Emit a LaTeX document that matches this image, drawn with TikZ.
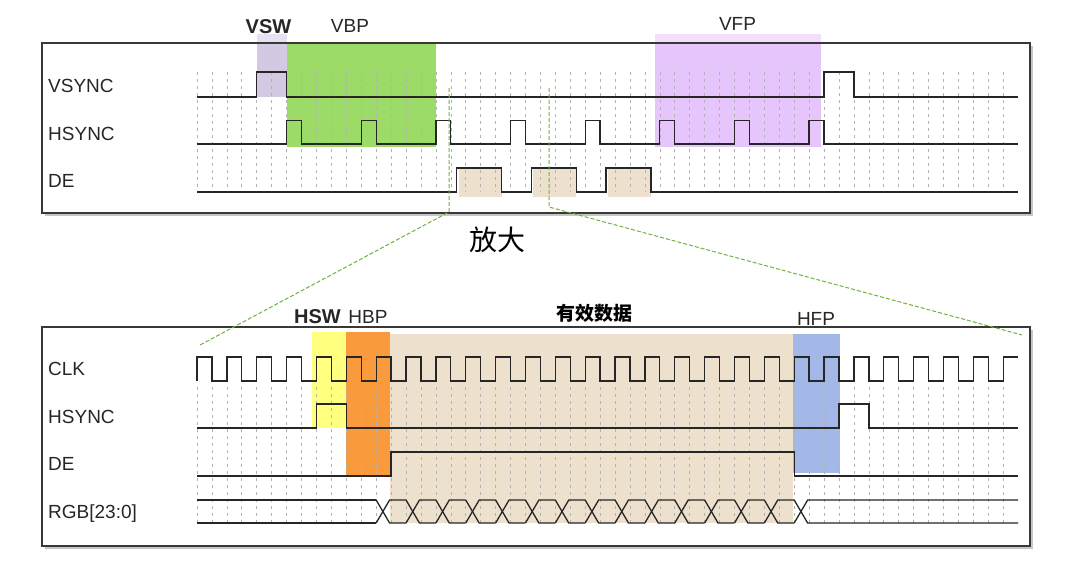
\documentclass[tikz,border=0pt]{standalone}
\usepackage{fontspec}
\setmainfont{Liberation Sans}
\newfontfamily\cjk{Noto Sans CJK SC}
\usetikzlibrary{shadows}

\definecolor{vswcol}{HTML}{D3C9E2}
\definecolor{vbpcol}{HTML}{9CDB68}
\definecolor{vfpcol}{HTML}{E6C4FC}
\definecolor{datacol}{HTML}{EDE0CD}
\definecolor{hswcol}{HTML}{FFFF80}
\definecolor{hbpcol}{HTML}{F99A3D}
\definecolor{hfpcol}{HTML}{A3B8E6}
\definecolor{zoomgreen}{HTML}{6CB33F}

\begin{document}
\begin{tikzpicture}[
    x=1pt, y=-1pt,
    panel/.style={draw=black!78, line width=1.6pt},
    wave/.style={line width=1.3pt, draw=black!85},
    gridline/.style={draw=black!30, line width=0.6pt, dash pattern=on 3pt off 4pt},
    siglabel/.style={anchor=base west, inner sep=0pt, font=\fontsize{19}{22}\selectfont, text=black!85},
    phase/.style={anchor=base, inner sep=0pt, font=\fontsize{19}{22}\selectfont, text=black!85},
    zoomline/.style={draw=zoomgreen, line width=1pt, dash pattern=on 4pt off 2pt}
]
    \useasboundingbox (0,0) rectangle (1078,579);

    % Panels
    \fill[white, drop shadow={shadow xshift=3pt, shadow yshift=-3pt, opacity=0.45}] (42,43) rectangle (1030,213);
    \fill[white, drop shadow={shadow xshift=3pt, shadow yshift=-3pt, opacity=0.45}] (42,327) rectangle (1030,546);

    \begin{scope}[shift={(197pt,0pt)}, x=14.93pt]
        % Vertical blanking phases
        \fill[vswcol!55] (4,34) rectangle (6.06,43);
        \fill[vswcol] (4,43) rectangle (6.06,97);
        \fill[vbpcol] (6.06,43) rectangle (16,147);
        \fill[vfpcol!55] (30.65,34) rectangle (41.8,43);
        \fill[vfpcol] (30.65,43) rectangle (41.8,147);
        \foreach \d in {17.4,22.4,27.4} {
            \fill[datacol] (\d+0.12,168) rectangle (\d+3,197);
        }

        % Horizontal blanking phases
        \fill[hswcol] (7.7,332) rectangle (10,428);
        \fill[hbpcol] (10,332) rectangle (12.9,476);
        \fill[datacol] (12.9,334) rectangle (39.9,523);
        \fill[hfpcol] (39.95,334) rectangle (43.1,473);

        % Grid
        \foreach \g in {0,...,54} {
            \draw[gridline] (\g,72) -- (\g,192);
            \draw[gridline] (\g,387) -- (\g,523);
        }

        % Frame timing
        \draw[wave] (0,97) -- (4,97) -- (4,72) -- (6,72) -- (6,97) -- (42,97) -- (42,72) -- (44,72) -- (44,97) -- (55,97);
        \draw[wave] (0,144) \foreach \p in {6,11,...,41} { -- (\p,144) -- (\p,120.5) -- (\p+1,120.5) -- (\p+1,144) } -- (55,144);
        \draw[wave] (0,192) \foreach \d in {17.4,22.4,27.4} { -- (\d,192) -- (\d,168) -- (\d+3,168) -- (\d+3,192) } -- (55,192);

        % Line timing
        \draw[wave] (0,381) \foreach \c in {0,2,...,52} { -- (\c,381) -- (\c,357) -- (\c+1,357) -- (\c+1,381) } -- (54,381) -- (54,357) -- (55,357);
        \draw[wave] (0,428) -- (8,428) -- (8,404) -- (10,404) -- (10,428) -- (43,428) -- (43,404) -- (45,404) -- (45,428) -- (55,428);
        \draw[wave] (0,476) -- (13,476) -- (13,452) -- (40,452) -- (40,476) -- (55,476);
        \draw[wave] (0,500) -- (12,500);
        \draw[wave] (0,523) -- (12,523);
        \foreach \c in {12.45,14.45,...,38.45} {
            \draw[wave] (\c-0.45,500) -- (\c+0.45,523) -- (\c+1.55,523);
            \draw[wave] (\c-0.45,523) -- (\c+0.45,500) -- (\c+1.55,500);
        }
        \draw[wave] (40,500) -- (40.9,523) -- (55,523);
        \draw[wave] (40,523) -- (40.9,500) -- (55,500);
    \end{scope}

    % Panel frames
    \draw[panel] (42,43) rectangle (1030,213);
    \draw[panel] (42,327) rectangle (1030,546);

    % Signal names
    \node[siglabel] (vsyncT) at (48,92) {VSYNC};
    \node[siglabel] (hsyncT) at (48,140) {HSYNC};
    \node[siglabel] (deT) at (48,187.5) {DE};
    \node[siglabel] (clkB) at (48,375) {CLK};
    \node[siglabel] (hsyncB) at (48,423) {HSYNC};
    \node[siglabel] (deB) at (48,470) {DE};
    \node[siglabel] (rgbB) at (48,518) {RGB[23:0]};

    % Phase names
    \node[phase, font=\fontsize{20}{22}\selectfont\bfseries] (vsw) at (268.5,33) {VSW};
    \node[phase] (vbp) at (350,32) {VBP};
    \node[phase] (vfp) at (737.5,30) {VFP};
    \node[phase, font=\fontsize{20}{22}\selectfont\bfseries] (hsw) at (317.5,323) {HSW};
    \node[phase] (hbp) at (368,323) {HBP};
    \node[phase] (hfp) at (816,325) {HFP};
    \node[inner sep=0pt, font=\cjk\fontsize{19}{22}\selectfont\bfseries] (valid) at (594,313.5) {有效数据};
    \node[inner sep=0pt, font=\cjk\fontsize{28}{30}\selectfont] (zoomT) at (497,240) {放大};

    % Zoom guides
    \coordinate (zoomA) at (449,88);
    \coordinate (zoomAbend) at (449,212);
    \coordinate (zoomAend) at (200,345);
    \coordinate (zoomB) at (549,88);
    \coordinate (zoomBbend) at (549,207);
    \coordinate (zoomBend) at (1022,335);
    \draw[zoomline] (zoomA) -- (zoomAbend) -- (zoomAend);
    \draw[zoomline] (zoomB) -- (zoomBbend) -- (zoomBend);
\end{tikzpicture}
\end{document}
